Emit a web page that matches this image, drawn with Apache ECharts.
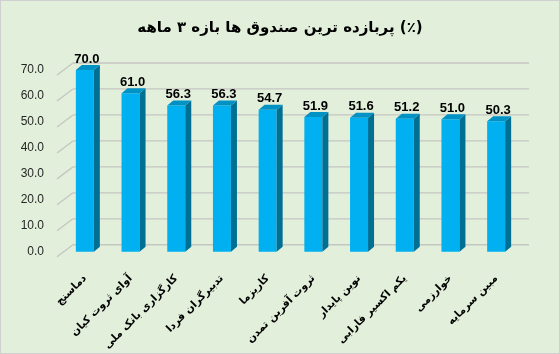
<!DOCTYPE html>
<html lang="fa">
<head>
    <meta charset="UTF-8">
    <title>پربازده ترین صندوق ها</title>
    <script src="https://cdn.jsdelivr.net/npm/echarts@6/dist/echarts.min.js"></script>
    <style>
        body { margin: 0; background: #e2efda; }
        #chart { width: 558px; height: 352px; border: 1px solid #d0d0d0; background: #e2efda; }
    </style>
</head>
<body>
    <div id="chart"></div>
    <script>
        // داده ها
        var funds = ['دماسنج', 'آوای ثروت کیان', 'کارگزاری بانک ملی', 'تدبیرگران فردا', 'کاریزما',
                     'ثروت آفرین تمدن', 'نوین پایدار', 'یکم اکسیر فارابی', 'خوارزمی', 'مبین سرمایه'];
        var returns = [70.0, 61.0, 56.3, 56.3, 54.7, 51.9, 51.6, 51.2, 51.0, 50.3];
        var yTicks = [0, 10, 20, 30, 40, 50, 60, 70];

        var chart = echarts.init(document.getElementById('chart'));

        var option = {
            animation: false,
            title: {
                text: 'پربازده ترین صندوق ها بازه ۳ ماهه (٪)',
                left: 'center',
                top: 15,
                textStyle: { fontFamily: 'DejaVu Sans', fontWeight: 'bold', fontSize: 15, color: '#000' }
            },
            grid: { left: 61, right: 40, top: 69, bottom: 97 },
            xAxis: {
                type: 'category',
                data: funds,
                axisLine: { show: false },
                axisTick: { show: false },
                axisLabel: {
                    rotate: 45,
                    interval: 0,
                    margin: 25,
                    fontFamily: 'DejaVu Sans',
                    fontWeight: 'bold',
                    fontSize: 10.5,
                    color: '#000'
                }
            },
            yAxis: {
                type: 'value',
                min: 0,
                max: 70,
                interval: 10,
                axisLine: { show: false },
                axisTick: { show: false },
                splitLine: { show: false },
                axisLabel: {
                    margin: 18,
                    padding: [8, 0, 0, 0],
                    fontFamily: 'Liberation Sans',
                    fontSize: 12,
                    color: '#262626',
                    formatter: function (v) { return v.toFixed(1); }
                }
            },
            series: [{
                // خطوط شبکه سه بعدی
                type: 'custom',
                data: yTicks.map(function (t) { return [0, t]; }),
                renderItem: function (params, api) {
                    var band = api.size([1, 0])[0];
                    var p = api.coord([0, api.value(1)]);
                    var y = p[1];
                    var x0 = p[0] - band / 2;
                    var x1 = x0 + band * funds.length + 10;
                    return {
                        type: 'group',
                        children: [{
                            type: 'line',
                            shape: { x1: x0 - 5, y1: y + 5, x2: x0 + 11, y2: y - 7 },
                            style: { stroke: '#c4c6c2', lineWidth: 1.3 }
                        }, {
                            type: 'line',
                            shape: { x1: x0 + 11, y1: y - 7, x2: x1, y2: y - 7 },
                            style: { stroke: '#c4c6c2', lineWidth: 1.3 }
                        }]
                    };
                }
            }, {
                // ستون ها
                type: 'custom',
                data: returns.map(function (v, i) { return [i, v]; }),
                renderItem: function (params, api) {
                    var top = api.coord([api.value(0), api.value(1)]);
                    var bot = api.coord([api.value(0), 0]);
                    var cx = top[0], ty = top[1], by = bot[1];
                    var w = 9, dx = 6, dy = 5;
                    return {
                        type: 'group',
                        children: [{
                            type: 'rect',
                            shape: { x: cx - w, y: ty, width: 2 * w, height: by - ty },
                            style: { fill: '#00b0f0' }
                        }, {
                            type: 'polygon',
                            shape: { points: [[cx + w, ty], [cx + w + dx, ty - dy], [cx + w + dx, by - dy], [cx + w, by]] },
                            style: { fill: '#006f94' }
                        }, {
                            type: 'polygon',
                            shape: { points: [[cx - w, ty], [cx - w + dx, ty - dy], [cx + w + dx, ty - dy], [cx + w, ty]] },
                            style: { fill: '#0092c4' }
                        }, {
                            type: 'text',
                            style: {
                                text: api.value(1).toFixed(1),
                                x: cx + 2,
                                y: ty - 11,
                                align: 'center',
                                verticalAlign: 'middle',
                                fontFamily: 'Liberation Sans',
                                fontWeight: 'bold',
                                fontSize: 13,
                                fill: '#000'
                            }
                        }]
                    };
                }
            }]
        };

        chart.setOption(option);
    </script>
</body>
</html>
